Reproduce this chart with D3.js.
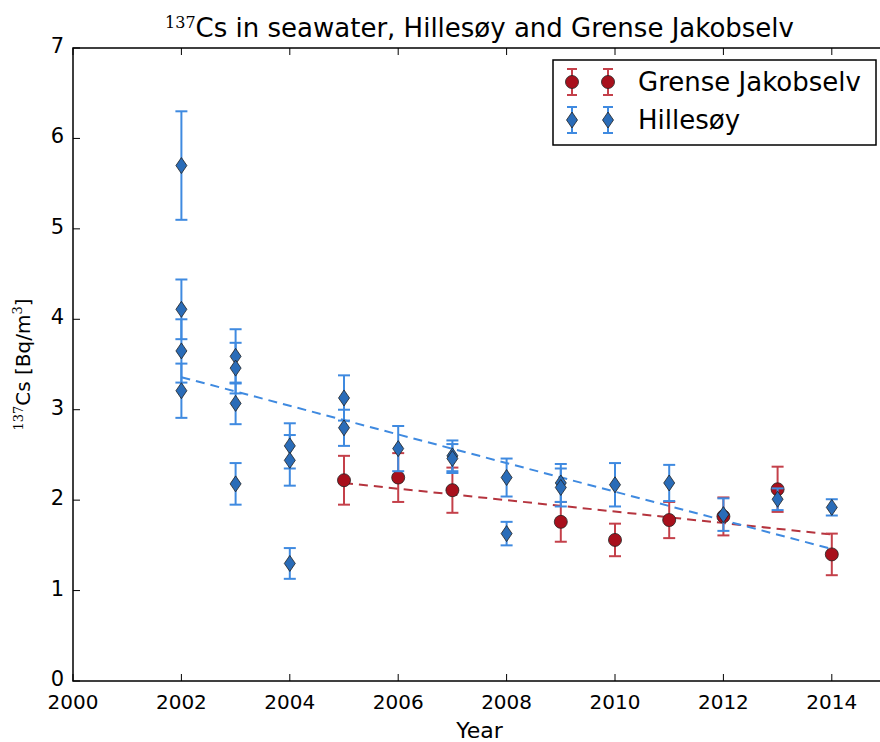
<!DOCTYPE html>
<html>
<head>
<meta charset="utf-8">
<script src="https://cdn.jsdelivr.net/npm/d3@7"></script>
<style>
  body { margin: 0; background: #fff; }
  svg { display: block; font-family: "DejaVu Sans", sans-serif; }
</style>
</head>
<body>
<div class="chart"></div>
<script>
// Grense Jakobselv (red circles)
const grenseYears = [2005, 2006, 2007, 2009, 2010, 2011, 2012, 2013, 2014];
const grenseValues = [2.22, 2.25, 2.11, 1.76, 1.56, 1.78, 1.82, 2.12, 1.40];
const grenseErrors = [0.27, 0.27, 0.25, 0.22, 0.18, 0.20, 0.21, 0.25, 0.23];

// Hillesøy (blue diamonds)
const hillesoyYears = [2002, 2002, 2002, 2002, 2003, 2003, 2003, 2003, 2004, 2004, 2004,
  2005, 2005, 2006, 2007, 2007, 2008, 2008, 2009, 2009, 2010, 2011, 2012, 2013, 2014];
const hillesoyValues = [5.70, 4.11, 3.65, 3.21, 3.59, 3.46, 3.07, 2.18, 2.60, 2.44, 1.30,
  3.13, 2.80, 2.57, 2.49, 2.46, 2.25, 1.63, 2.19, 2.14, 2.17, 2.19, 1.84, 2.01, 1.92];
const hillesoyErrors = [0.60, 0.33, 0.35, 0.30, 0.30, 0.28, 0.23, 0.23, 0.25, 0.28, 0.17,
  0.25, 0.20, 0.25, 0.17, 0.16, 0.21, 0.13, 0.21, 0.21, 0.24, 0.20, 0.18, 0.12, 0.09];

// trend lines (end points)
const grenseFitYears = [2005, 2014];
const grenseFitValues = [2.19, 1.62];
const hillesoyFitYears = [2002, 2014];
const hillesoyFitValues = [3.36, 1.46];

const xTicks = [2000, 2002, 2004, 2006, 2008, 2010, 2012, 2014];
const yTicks = [0, 1, 2, 3, 4, 5, 6, 7];

const width = 880, height = 742;
const margin = { left: 73, top: 48, right: -6, bottom: 61 };

const red = "#a8101c", redBar = "#c4404a";
const blue = "#2a6cb8", blueBar = "#3f8ae0";

const svg = d3.select(".chart").append("svg")
  .attr("width", width).attr("height", height);

const x = d3.scaleLinear().domain([2000, 2015])
  .range([margin.left, width - margin.right]);
const y = d3.scaleLinear().domain([0, 7])
  .range([height - margin.bottom, margin.top]);

const plot = svg.append("g");

// trend lines
const line = d3.line().x(d => x(d[0])).y(d => y(d[1]));
plot.append("path")
  .attr("d", line(d3.zip(grenseFitYears, grenseFitValues)))
  .attr("fill", "none").attr("stroke", red).attr("stroke-opacity", 0.85)
  .attr("stroke-width", 2).attr("stroke-dasharray", "9,6");
plot.append("path")
  .attr("d", line(d3.zip(hillesoyFitYears, hillesoyFitValues)))
  .attr("fill", "none").attr("stroke", blueBar)
  .attr("stroke-width", 2).attr("stroke-dasharray", "9,6");

function drawSeries(years, values, errors, color, barColor, shape) {
  const data = d3.zip(years, values, errors);
  const g = plot.append("g");
  const bars = g.selectAll("g.bar").data(data).join("g").attr("class", "bar")
    .attr("stroke", barColor).attr("stroke-width", 2);
  bars.append("line")
    .attr("x1", d => x(d[0])).attr("x2", d => x(d[0]))
    .attr("y1", d => y(d[1] - d[2])).attr("y2", d => y(d[1] + d[2]));
  bars.append("line")
    .attr("x1", d => x(d[0]) - 6).attr("x2", d => x(d[0]) + 6)
    .attr("y1", d => y(d[1] + d[2])).attr("y2", d => y(d[1] + d[2]));
  bars.append("line")
    .attr("x1", d => x(d[0]) - 6).attr("x2", d => x(d[0]) + 6)
    .attr("y1", d => y(d[1] - d[2])).attr("y2", d => y(d[1] - d[2]));
  g.selectAll("path.mark").data(data).join("path").attr("class", "mark")
    .attr("d", shape)
    .attr("transform", d => `translate(${x(d[0])},${y(d[1])})`)
    .attr("fill", color).attr("stroke", "#222").attr("stroke-opacity", 0.8)
    .attr("stroke-width", 1);
}

const circle = "M6.5,0A6.5,6.5 0 1,1 -6.5,0A6.5,6.5 0 1,1 6.5,0Z";
const diamond = "M0,-8L5.5,0L0,8L-5.5,0Z";

drawSeries(grenseYears, grenseValues, grenseErrors, red, redBar, circle);
drawSeries(hillesoyYears, hillesoyValues, hillesoyErrors, blue, blueBar, diamond);

// axes frame
const x0 = margin.left, x1 = width - margin.right;
const y0 = height - margin.bottom, y1 = margin.top;
const frame = svg.append("g").attr("stroke", "#000").attr("stroke-width", 1.5);
frame.append("rect").attr("x", x0).attr("y", y1)
  .attr("width", x1 - x0).attr("height", y0 - y1).attr("fill", "none");

// ticks (inward, also on top)
const axisG = svg.append("g").attr("stroke", "#000").attr("stroke-width", 1);
xTicks.forEach(t => {
  axisG.append("line").attr("x1", x(t)).attr("x2", x(t)).attr("y1", y0).attr("y2", y0 - 7);
  axisG.append("line").attr("x1", x(t)).attr("x2", x(t)).attr("y1", y1).attr("y2", y1 + 7);
});
yTicks.forEach(t => {
  axisG.append("line").attr("x1", x0).attr("x2", x0 + 7).attr("y1", y(t)).attr("y2", y(t));
});

svg.append("g").selectAll("text").data(xTicks).join("text")
  .attr("x", d => x(d)).attr("y", y0 + 28)
  .attr("text-anchor", "middle").attr("font-size", 20).attr("fill", "#000")
  .text(d => d);
svg.append("g").selectAll("text").data(yTicks).join("text")
  .attr("x", x0 - 9).attr("y", d => y(d) + 5)
  .attr("text-anchor", "end").attr("font-size", 21).attr("fill", "#000")
  .text(d => d);

// title
const title = svg.append("text").attr("x", (x0 + x1) / 2).attr("y", 37)
  .attr("text-anchor", "middle").attr("font-size", 26).attr("fill", "#000");
title.append("tspan").attr("font-family", "DejaVu Serif").attr("font-size", 16)
  .attr("dy", -9).text("137");
title.append("tspan").attr("dy", 9).text("Cs in seawater, Hillesøy and Grense Jakobselv");

// axis labels
svg.append("text").attr("x", (x0 + x1) / 2).attr("y", 738)
  .attr("text-anchor", "middle").attr("font-size", 22).attr("fill", "#000").text("Year");

const ylab = svg.append("text")
  .attr("transform", `translate(30,${(y0 + y1) / 2}) rotate(-90)`)
  .attr("text-anchor", "middle").attr("font-size", 20).attr("fill", "#000");
ylab.append("tspan").attr("font-family", "DejaVu Serif").attr("font-size", 13)
  .attr("dy", -7).text("137");
ylab.append("tspan").attr("dy", 7).text("Cs [Bq/m");
ylab.append("tspan").attr("font-family", "DejaVu Serif").attr("font-size", 13)
  .attr("dy", -8).text("3");
ylab.append("tspan").attr("dy", 8).text("]");

// legend
const legend = svg.append("g");
legend.append("rect").attr("x", 553).attr("y", 60).attr("width", 323).attr("height", 85)
  .attr("fill", "#fff").attr("stroke", "#000").attr("stroke-width", 1.5);
const legendItems = [
  { name: "Grense Jakobselv", color: red, bar: redBar, shape: circle, ly: 82 },
  { name: "Hillesøy", color: blue, bar: blueBar, shape: diamond, ly: 120 }
];
legendItems.forEach(item => {
  [572, 608].forEach(mx => {
    const g = legend.append("g").attr("stroke", item.bar).attr("stroke-width", 2);
    g.append("line").attr("x1", mx).attr("x2", mx).attr("y1", item.ly - 13).attr("y2", item.ly + 13);
    g.append("line").attr("x1", mx - 5).attr("x2", mx + 5).attr("y1", item.ly - 13).attr("y2", item.ly - 13);
    g.append("line").attr("x1", mx - 5).attr("x2", mx + 5).attr("y1", item.ly + 13).attr("y2", item.ly + 13);
    legend.append("path").attr("d", item.shape)
      .attr("transform", `translate(${mx},${item.ly})`)
      .attr("fill", item.color).attr("stroke", "#222").attr("stroke-opacity", 0.8);
  });
  legend.append("text").attr("x", 638).attr("y", item.ly + 9)
    .attr("font-size", 26).attr("fill", "#000").text(item.name);
});
</script>
</body>
</html>
